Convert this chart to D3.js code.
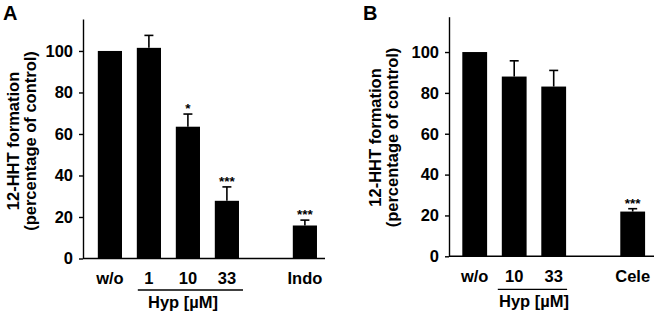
<!DOCTYPE html>
<html>
<head>
<meta charset="utf-8">
<script src="https://cdn.jsdelivr.net/npm/d3@7"></script>
<style>
  html, body { margin: 0; padding: 0; background: #fff; }
  svg text { font-family: "Liberation Sans", Arial, sans-serif; font-weight: bold; fill: #000; }
</style>
</head>
<body>
<svg id="chart" width="654" height="313"></svg>
<script>
// ---------- data ----------
const categoriesA = ["w/o", "1", "10", "33", "Indo"];
const valuesA = [100, 101.5, 63.5, 27.8, 15.9];
const errorsA = [0, 6.0, 6.1, 6.7, 2.6];
const sigA = ["", "", "*", "***", "***"];

const categoriesB = ["w/o", "10", "33", "Cele"];
const valuesB = [100, 88.0, 83.1, 21.9];
const errorsB = [0, 7.7, 7.9, 1.4];
const sigB = ["", "", "", "***"];

const yTicks = [0, 20, 40, 60, 80, 100];
const yTitle1 = "12-HHT formation";
const yTitle2 = "(percentage of control)";
const groupLabel = "Hyp [µM]";
const groupA = ["1", "10", "33"];
const groupB = ["10", "33"];

const svg = d3.select("#chart");

function panel(cfg) {
  const g = svg.append("g");
  const slots = cfg.categories.slice();
  slots.splice(slots.length - 1, 0, "__gap__");
  const x = d3.scaleBand().domain(slots)
    .range([cfg.axisX, cfg.axisX + cfg.width])
    .paddingInner(cfg.pi).paddingOuter(cfg.po);
  const y = d3.scaleLinear().domain([0, cfg.yMax]).range([cfg.zeroY, cfg.topY]);

  // bars
  g.selectAll("rect.bar").data(cfg.categories).enter().append("rect")
    .attr("x", d => x(d)).attr("width", x.bandwidth())
    .attr("y", (d, i) => y(cfg.values[i]))
    .attr("height", (d, i) => y(0) - y(cfg.values[i]))
    .attr("fill", "#000");

  // error bars
  cfg.categories.forEach((c, i) => {
    if (!cfg.errors[i]) return;
    const cx = x(c) + x.bandwidth() / 2;
    const yt = y(cfg.values[i] + cfg.errors[i]);
    g.append("line").attr("x1", cx).attr("x2", cx)
      .attr("y1", y(cfg.values[i])).attr("y2", yt)
      .attr("stroke", "#000").attr("stroke-width", 1.6);
    g.append("line").attr("x1", cx - 4.5).attr("x2", cx + 4.5)
      .attr("y1", yt).attr("y2", yt)
      .attr("stroke", "#000").attr("stroke-width", 1.6);
  });

  // significance
  cfg.categories.forEach((c, i) => {
    if (!cfg.sig[i]) return;
    const cx = x(c) + x.bandwidth() / 2;
    const top = y(cfg.values[i] + cfg.errors[i]);
    g.append("text").attr("x", cx).attr("y", top - 1)
      .attr("text-anchor", "middle").style("font-size", "13.5px")
      .text(cfg.sig[i]);
  });

  // y axis
  const ax = g.append("g").attr("transform", `translate(${cfg.axisX},0)`)
    .call(d3.axisLeft(y).tickValues(yTicks).tickSize(4).tickSizeOuter(0).tickPadding(6));
  ax.select(".domain").attr("stroke", "#000").attr("stroke-width", 1.4);
  ax.selectAll(".tick line").attr("stroke", "#000").attr("stroke-width", 1.4);
  ax.selectAll(".tick text").style("font-size", "16.5px").style("font-family", "Liberation Sans, Arial, sans-serif").style("font-weight", "bold");

  // x baseline
  g.append("line").attr("x1", cfg.axisX).attr("x2", cfg.baseEnd)
    .attr("y1", y(0)).attr("y2", y(0)).attr("stroke", "#000").attr("stroke-width", 1.4);

  // x labels
  g.selectAll("text.xl").data(cfg.categories).enter().append("text")
    .attr("x", d => x(d) + x.bandwidth() / 2).attr("y", cfg.xLabelY)
    .attr("text-anchor", "middle").style("font-size", "16.5px").text(d => d);

  // group line + label
  const gx1 = x(cfg.group[0]) + cfg.gpadL;
  const gx2 = x(cfg.group[cfg.group.length - 1]) + x.bandwidth() + cfg.gpadR;
  g.append("line").attr("x1", gx1).attr("x2", gx2)
    .attr("y1", cfg.groupLineY).attr("y2", cfg.groupLineY)
    .attr("stroke", "#000").attr("stroke-width", 1.3);
  g.append("text").attr("x", cfg.groupLabelX).attr("y", cfg.groupLabelY)
    .attr("text-anchor", "middle").style("font-size", "16.5px").text(groupLabel);

  // y titles
  const midY = cfg.titleMidY;
  g.append("text").attr("transform", `translate(${cfg.title1X},${midY}) rotate(-90)`)
    .attr("text-anchor", "middle").attr("dy", "0.35em").style("font-size", "16.5px").text(yTitle1);
  g.append("text").attr("transform", `translate(${cfg.title2X},${midY}) rotate(-90)`)
    .attr("text-anchor", "middle").attr("dy", "0.35em").style("font-size", "16.5px").text(yTitle2);

  // panel letter
  g.append("text").attr("x", cfg.letterX).attr("y", cfg.letterY)
    .style("font-size", "20px").text(cfg.letter);
}

panel({
  categories: categoriesA, values: valuesA, errors: errorsA, sig: sigA, group: groupA,
  axisX: 83, width: 248.8, pi: 0.38, po: 0.38,
  yMax: 115.4, zeroY: 258.5, topY: 19,
  baseEnd: 325, xLabelY: 283.5, groupLineY: 290, gpadL: 1, gpadR: 4,
  groupLabelX: 183, groupLabelY: 307.5,
  title1X: 13, title2X: 30, titleMidY: 141,
  letter: "A", letterX: 3, letterY: 19.5
});

panel({
  categories: categoriesB, values: valuesB, errors: errorsB, sig: sigB, group: groupB,
  axisX: 449, width: 209.4, pi: 0.372, po: 0.337,
  yMax: 117.3, zeroY: 256.3, topY: 16.7,
  baseEnd: 654, xLabelY: 281.5, groupLineY: 289.3, gpadL: -4, gpadR: 1,
  groupLabelX: 534, groupLabelY: 307,
  title1X: 375, title2X: 392, titleMidY: 137.5,
  letter: "B", letterX: 363, letterY: 20
});
</script>
</body>
</html>
